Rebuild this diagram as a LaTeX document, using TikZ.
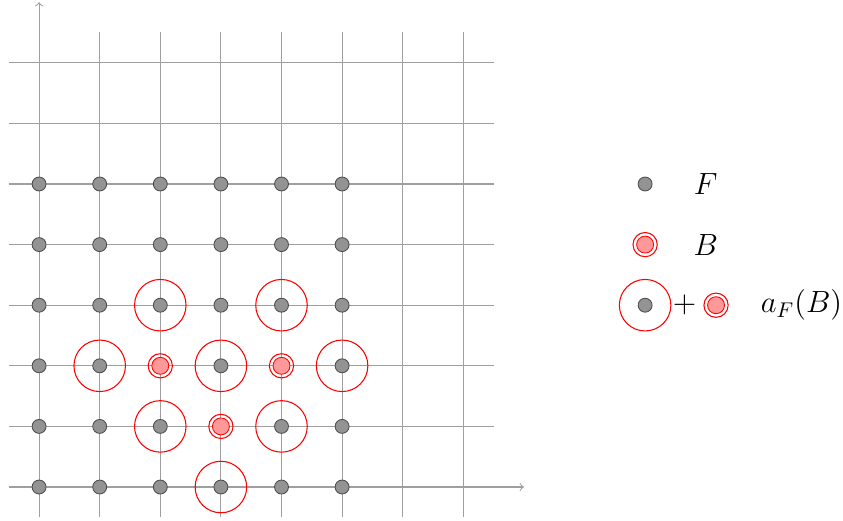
\documentclass[tikz,border=0pt]{standalone}
\begin{document}
\begin{tikzpicture}[x=1cm,y=1cm,
  gridline/.style={draw=gray!75,line width=0.5pt},
  fdot/.style={fill=gray!85,draw=black!70,line width=0.4pt},
  bigring/.style={draw=red,line width=0.5pt},
  bdot/.style={fill=red!40,draw=red,line width=0.4pt},
  lbl/.style={font=\Large,inner sep=0pt}]
\useasboundingbox (-0.645,-0.56) rectangle (13.265,8.036);
% grid
\foreach \i in {0,...,7} {
  \draw[gridline] (\i,-0.5) -- (\i,7.5);
  \draw[gridline] (-0.5,\i) -- (7.5,\i);
}
% axes
\draw[gridline,->] (-0.5,0) -- (8,0);
\draw[gridline,->] (0,-0.5) -- (0,8);
% F dots
\foreach \i in {0,...,5} \foreach \j in {0,...,5} \fill[fdot] (\i,\j) circle (0.115);
% big rings
\foreach \p in {(2,3),(4,3),(1,2),(3,2),(5,2),(2,1),(4,1),(3,0)} \draw[bigring] \p circle (0.425);
% B points
\foreach \p in {(2,2),(4,2),(3,1)} {
  \fill[bdot] \p circle (0.14);
  \draw[bigring] \p circle (0.2);
}
% legend
\fill[fdot] (10,5) circle (0.115);
\node[lbl] (lF) at (11,5) {$F$};
\fill[bdot] (10,4) circle (0.14);
\draw[bigring] (10,4) circle (0.2);
\node[lbl] (lB) at (11,4) {$B$};
\draw[bigring] (10,3) circle (0.425);
\fill[fdot] (10,3) circle (0.115);
\node[lbl] (plus) at (10.65,3) {$+$};
\fill[bdot] (11.17,3) circle (0.14);
\draw[bigring] (11.17,3) circle (0.2);
\node[lbl] (lA) at (12.58,3) {$a_F(B)$};
\end{tikzpicture}
\end{document}
